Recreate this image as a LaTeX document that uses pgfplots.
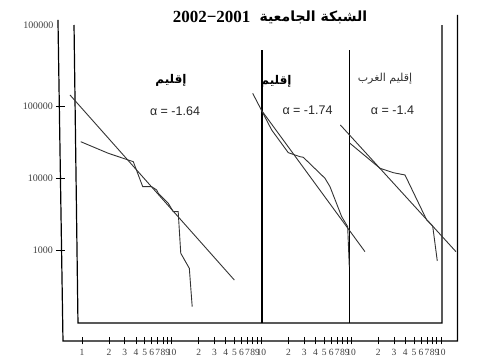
\documentclass[border=0pt]{standalone}
\usepackage{pgfplots}
\pgfplotsset{compat=1.18}
\usepackage{fontspec}
\setmainfont{Liberation Serif}
\newfontfamily\arabicfont[Script=Arabic]{DejaVu Sans}
\newfontfamily\sansfont{Liberation Sans}
\TeXXeTstate=1
\begin{document}
\begin{tikzpicture}
\begin{axis}[
  scale only axis, width=397.5pt, height=321pt,
  xmode=log, ymode=log,
  xmin=0.5687, xmax=15270, ymin=53.8, ymax=1614000,
  axis x line*=bottom, axis y line*=left,
  axis line style={draw=none},
  clip=false,
  xminorticks=false, yminorticks=false,
  tick align=center, major tick length=7pt,
  every tick/.style={black, line width=0.9pt},
  xtick={1,2,3,4,5,6,7,8,9,10,20,30,40,50,60,70,80,90,100,200,300,400,500,600,700,800,900,1000,2000,3000,4000,5000,6000,7000,8000,9000,10000},
  xticklabels={1,2,3,4,5,6,7,8,9,10,2,3,4,5,6,7,8,9,10,2,3,4,5,6,7,8,9,10,2,3,4,5,6,7,8,9,10},
  ytick={1000,10000,100000},
  yticklabels={1000,10000,100000},
  xticklabel style={font=\fontsize{9.5}{10}\selectfont, text=black!75, yshift=-1pt},
  yticklabel style={font=\fontsize{10}{10}\selectfont, text=black!75},
]
% outer axis lines (hand-drawn)
\addplot[black, line width=1.2pt] coordinates {(0.540,1614000) (0.614,53.8) (15270,53.8) (15270,1895000)};
% y ticks
\addplot[black, line width=0.9pt] coordinates {(0.513,1000) (0.640,1000)};
\addplot[black, line width=0.9pt] coordinates {(0.513,10000) (0.640,10000)};
\addplot[black, line width=0.9pt] coordinates {(0.513,100000) (0.640,100000)};
% inner frame and panel separators
\addplot[black, line width=1.2pt] coordinates {(0.815,1374000) (0.902,95.9) (10260,95.9) (10260,1374000)};
\addplot[black, line width=1.2pt] coordinates {(101.3,615500) (101.3,95.9)};
\addplot[black, line width=1.2pt] coordinates {(965,615500) (965,95.9)};
% panel 1
\addplot[black!80, line width=0.9pt] coordinates {(0.967,32400) (1.964,22320) (3.73,17040) (4.75,7635) (5.98,7635) (6.80,6868) (7.08,6177) (9.15,4480) (10.4,3421) (11.8,3421) (12.6,899.5) (15.7,555.5) (16.9,161.9)};
\addplot[black!80, line width=0.9pt] coordinates {(0.735,145200) (49.8,381.6)};
% panel 2
\addplot[black!80, line width=0.9pt] coordinates {(79.8,153300) (129.9,47170) (198.9,22750) (268.5,20010) (292.2,19630) (510,10000) (579.8,7635) (782.9,2913) (889.6,2232) (912.9,2113) (951,584.8)};
\addplot[black!80, line width=0.9pt] coordinates {(101.3,86820) (1423,947)};
% panel 3
\addplot[black!80, line width=0.9pt] coordinates {(968.5,30770) (2091,13790) (2942,11970) (3972,11120) (6929,2620) (8080,2161) (8570,1240) (9095,702.3)};
\addplot[black!80, line width=0.9pt] coordinates {(757,55380) (14690,947)};
% texts
\node[anchor=east, font=\fontsize{10}{10}\selectfont, text=black!75, xshift=-3pt] at (axis cs:0.5687,1374000) {100000};
\node[font=\fontsize{17}{17}\selectfont\bfseries, anchor=east, xshift=-2pt] at (axis cs:86.9,1778000) {2002−2001};
\node[font=\fontsize{14}{14}\selectfont, anchor=west] at (axis cs:86.9,1778000) {\arabicfont\bfseries\beginR الشبكة الجامعية\endR};
\node[font=\fontsize{12}{12}\selectfont] at (axis cs:9.81,235000) {\arabicfont\bfseries\beginR إقليم\endR};
\node[font=\fontsize{12}{12}\selectfont] at (axis cs:145,227500) {\arabicfont\bfseries\beginR إقليم\endR};
\node[font=\fontsize{11}{11}\selectfont, text=black!80] at (axis cs:2377,242700) {\arabicfont\beginR إقليم الغرب\endR};
\node[font=\fontsize{12.5}{12.5}\selectfont\sansfont, text=black!85] at (axis cs:10.87,86820) {α = -1.64};
\node[font=\fontsize{12.5}{12.5}\selectfont\sansfont, text=black!85] at (axis cs:325.5,89660) {α = -1.74};
\node[font=\fontsize{12.5}{12.5}\selectfont\sansfont, text=black!85] at (axis cs:2882,89660) {α = -1.4};
\coordinate (BL) at (axis cs:0.122,25.7);
\coordinate (TR) at (axis cs:49090,3068000);
\end{axis}
\pgfresetboundingbox
\path[use as bounding box] (BL) rectangle (TR);
\end{tikzpicture}
\end{document}
